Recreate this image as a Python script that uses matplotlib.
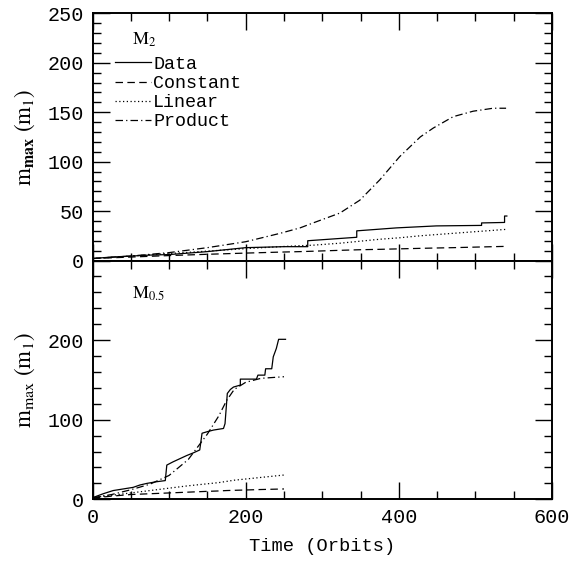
import numpy as np
import matplotlib
matplotlib.use("Agg")
import matplotlib.pyplot as plt
from matplotlib.ticker import MultipleLocator

plt.rcParams['font.family'] = ['Liberation Mono', 'DejaVu Sans Mono']
plt.rcParams['mathtext.fontset'] = 'stix'

# M_2 panel (top)
t2_data = [0, 25, 50, 75, 100, 125, 150, 175, 200, 225, 250, 281, 281, 345, 345, 397, 449, 508, 508, 538, 538, 541]
m2_data = [2, 3.5, 4.5, 5.5, 6, 7.5, 9, 11, 13, 13.5, 14, 14, 20, 23.5, 30, 33, 35, 35.5, 38, 38.5, 45, 45]
t2_model = [0, 50, 100, 150, 200, 245, 271, 288, 323, 349, 375, 401, 428, 445, 471, 497, 523, 540]
m2_const = [2, 3.5, 5, 6.3, 7.5, 8.5, 9, 9.4, 10.3, 10.9, 11.3, 11.8, 12.3, 12.6, 13, 13.5, 14, 14.3]
m2_linear = [2, 4.5, 7, 9.5, 12, 14, 15, 15.5, 17.5, 19.5, 21.5, 23, 25, 26, 27.5, 29, 30.5, 31.5]
m2_product = [2, 4.5, 8, 13, 19, 27.5, 33, 38, 48, 61, 81.5, 105, 125, 134, 145.5, 151, 154, 154]

# M_0.5 panel (bottom)
t05_data = [0, 14, 27, 40, 53, 62, 71, 83, 95, 97, 105, 114, 123, 132, 140, 143, 150, 158, 171, 173,
            176, 180, 184, 193, 193, 214, 216, 225, 226, 234, 236, 240, 243, 252]
m05_data = [2, 7, 11, 13, 15, 18, 20, 22, 23.5, 43, 47, 51, 55, 58.5, 62, 83, 85, 87, 89, 95,
            133, 138, 141, 143.5, 151, 151, 156, 156, 164, 164, 179, 189.5, 201, 201]
t05_model = [0, 25, 50, 75, 100, 125, 150, 165, 175, 185, 200, 220, 250]
m05_const = [1.5, 4, 6, 7, 8, 9, 10, 10.5, 11, 11.3, 11.7, 12.3, 13]
m05_linear = [2, 5, 8, 11, 14, 17, 19.5, 21, 22.5, 24, 25.5, 27.5, 30.5]
m05_product = [2, 6, 12, 19, 30, 50, 82, 105, 124, 138, 147, 152, 154]

fig = plt.figure(figsize=(5.69, 5.64), dpi=100)
left, width = 0.1626, 0.8076
ax1 = fig.add_axes([left, 0.5381, width, 0.4383])
ax2 = fig.add_axes([left, 0.1147, width, 0.4234])

lw = 0.9
styles = dict(color='black', linewidth=lw)


def style_axis(ax, ymaj, ymin):
    ax.set_xlim(0, 600)
    ax.xaxis.set_major_locator(MultipleLocator(200))
    ax.xaxis.set_minor_locator(MultipleLocator(50))
    ax.yaxis.set_major_locator(MultipleLocator(ymaj))
    ax.yaxis.set_minor_locator(MultipleLocator(ymin))
    ax.tick_params(which='both', direction='in', top=True, right=True, width=1.0, labelsize=14.5)
    ax.tick_params(which='major', length=12, pad=6)
    ax.tick_params(which='minor', length=6)
    for s in ax.spines.values():
        s.set_linewidth(1.4)


# top
ax1.plot(t2_data, m2_data, '-', label='Data', **styles)
ax1.plot(t2_model, m2_const, label='Constant', dashes=(6, 3.5), **styles)
ax1.plot(t2_model, m2_linear, label='Linear', dashes=(1, 2), **styles)
ax1.plot(t2_model, m2_product, label='Product', dashes=(6, 2.5, 1, 2.5), **styles)
ax1.set_ylim(0, 250)
style_axis(ax1, 50, 10)
ax1.tick_params(labelbottom=False)
ax1.set_ylabel(r'$\mathrm{m}_{\mathbf{max}}\ \mathrm{(m_1)}$', fontsize=16.5, labelpad=8)
ax1.text(0.085, 0.875, r'$\mathrm{M_2}$', transform=ax1.transAxes, fontsize=13)
ax1.legend(loc='upper left', bbox_to_anchor=(0.02, 0.88), frameon=False, fontsize=13.2,
           handlelength=2.0, handletextpad=0.1, labelspacing=0.12, borderaxespad=0.3)

# bottom
ax2.plot(t05_data, m05_data, '-', **styles)
ax2.plot(t05_model, m05_const, dashes=(6, 3.5), **styles)
ax2.plot(t05_model, m05_linear, dashes=(1, 2), **styles)
ax2.plot(t05_model, m05_product, dashes=(6, 2.5, 1, 2.5), **styles)
ax2.set_ylim(0, 300)
style_axis(ax2, 100, 20)
ax2.set_yticks([0, 100, 200, 300])
ax2.set_yticklabels(['0', '100', '200', ''])
ax2.set_ylabel(r'$\mathrm{m_{max}\ (m_1)}$', fontsize=16.5, labelpad=8)
ax2.set_xlabel('Time (Orbits)', fontsize=13.5, labelpad=8)
ax2.text(0.085, 0.84, r'$\mathrm{M_{0.5}}$', transform=ax2.transAxes, fontsize=13)

fig.savefig('out.png', dpi=100)
